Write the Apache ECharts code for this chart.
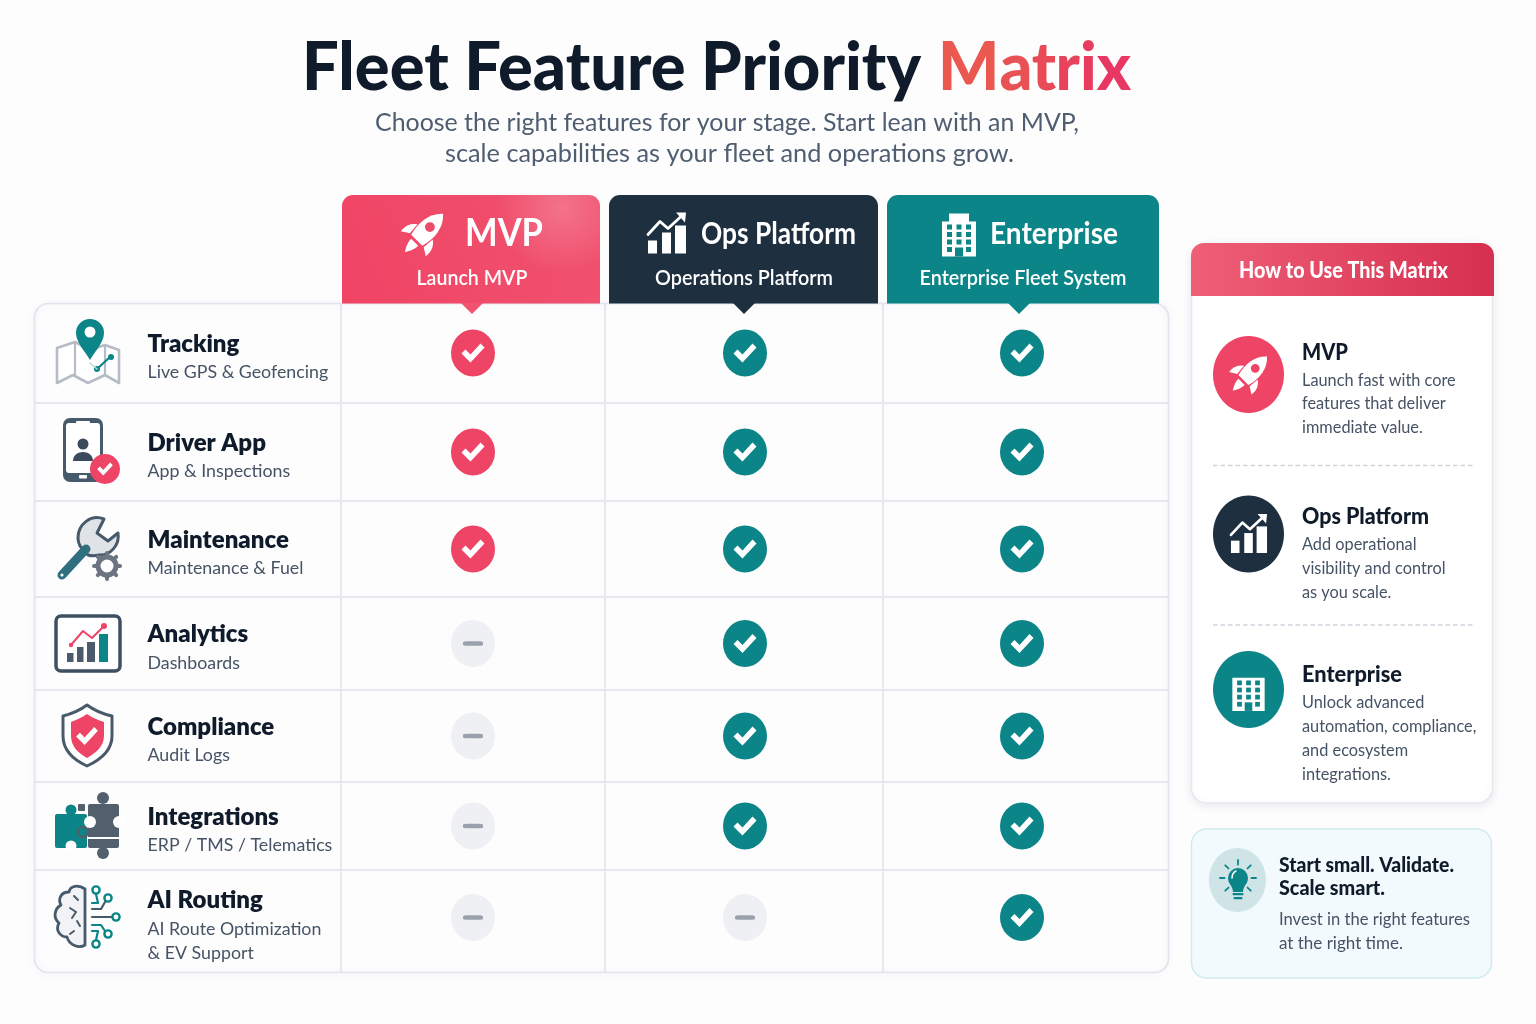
<!DOCTYPE html>
<html>
<head>
<meta charset="utf-8">
<title>Fleet Feature Priority Matrix</title>
<script src="https://cdn.jsdelivr.net/npm/echarts@6/dist/echarts.min.js"></script>
<style>
html,body{margin:0;padding:0;background:#fdfdfe}
#chart{width:1536px;height:1024px}
</style>
</head>
<body>
<div id="chart"></div>
<script>
// table content
const features = ['Tracking', 'Driver App', 'Maintenance', 'Analytics', 'Compliance', 'Integrations', 'AI Routing'];
const featureSubs = ['Live GPS & Geofencing', 'App & Inspections', 'Maintenance & Fuel', 'Dashboards', 'Audit Logs', 'ERP / TMS / Telematics', 'AI Route Optimization\n& EV Support'];
const tiers = ['MVP', 'Ops Platform', 'Enterprise'];
const tierSubs = ['Launch MVP', 'Operations Platform', 'Enterprise Fleet System'];
// 1 = included, 0 = not included, same order as features
const mvpStatus = [1, 1, 1, 0, 0, 0, 0];
const opsStatus = [1, 1, 1, 1, 1, 1, 0];
const enterpriseStatus = [1, 1, 1, 1, 1, 1, 1];

// side panel
const panelTitle = 'How to Use This Matrix';
const mvpNotes = ['Launch fast with core', 'features that deliver', 'immediate value.'];
const opsNotes = ['Add operational', 'visibility and control', 'as you scale.'];
const enterpriseNotes = ['Unlock advanced', 'automation, compliance,', 'and ecosystem', 'integrations.'];
const tipHead = ['Start small. Validate.', 'Scale smart.'];
const tipBody = ['Invest in the right features', 'at the right time.'];

// layout (pixels), not data
const colSizes = [307, 264, 278, 286];
const rowSizes = [100, 98, 96, 93, 92, 88, 103];
const tierNudge = [0, 1, -4]; // marks are not quite centred in their columns
const FONT = 'Lato, "Noto Sans", sans-serif';
const PINK = '#ee4466', TEAL = '#0b8587', NAVY = '#1e2f40', SLATE = '#475a6b', INK = '#0f1b2a', BODY = '#465365';
const CHECK = 'M0 10 L4 6 L9 11 L19 0 L23 4 L9 19 Z';

const measure = document.createElement('canvas').getContext('2d');
// text helper; w squeezes the run to the width it has in the layout
function T(text, x, y, font, fill, align, w) {
  const el = { type: 'text', x, y, style: { text, font, fill, align: align || 'left', verticalAlign: 'middle' } };
  if (w) {
    measure.font = font;
    el.scaleX = w / measure.measureText(text).width;
  }
  return el;
}
function P(d, fill, stroke, lw) {
  return { type: 'path', shape: { pathData: d }, style: { fill: fill || 'none', stroke: stroke || 'none', lineWidth: lw || 0, lineCap: 'round', lineJoin: 'round' } };
}
function circle(cx, cy, r, fill, stroke, lw) {
  return { type: 'circle', shape: { cx, cy, r }, style: { fill: fill || 'none', stroke: stroke || 'none', lineWidth: lw || 0 } };
}
function ellipse(cx, cy, rx, ry, fill) {
  return { type: 'ellipse', shape: { cx, cy, rx, ry }, style: { fill } };
}
function rect(x, y, width, height, fill, r, style) {
  return { type: 'rect', shape: { x, y, width, height, r: r || 0 }, style: style || { fill } };
}
function G(x, y, scale, children, rotation) {
  return { type: 'group', x, y, scaleX: scale, scaleY: scale, rotation: rotation || 0, children };
}
function grad(x0, y0, x1, y1, c0, c1) {
  return new echarts.graphic.LinearGradient(x0, y0, x1, y1, [{ offset: 0, color: c0 }, { offset: 1, color: c1 }]);
}

function rocket(cx, cy, s, bg) {
  return G(cx, cy, s, [
    P('M0 -29 C10 -20 12 -6 8 9 L-8 9 C-12 -6 -10 -20 0 -29Z', '#fff'),
    P('M-11 -3 C-17 1 -19 7 -18 14 L-10 9 Z', '#fff'),
    P('M11 -3 C17 1 19 7 18 14 L10 9 Z', '#fff'),
    P('M-5 12 L5 12 C5 18 2 23 0 26 C-2 23 -5 18 -5 12Z', '#fff'),
    circle(0, -10, 5, bg)
  ], -Math.PI / 4);
}
function barsArrow(cx, cy, s) {
  return G(cx, cy, s, [
    rect(-19, 7, 9, 13, '#fff'), rect(-5, -1, 9, 21, '#fff'), rect(8, -8, 11, 28, '#fff'),
    P('M-19 1 L-7 -12 L1 -5 L14 -17', null, '#fff', 2.8),
    P('M9 -21 L19 -21 L18 -11 Z', '#fff')
  ]);
}
function building(cx, cy, s, bg, stepped) {
  const kids = [rect(-17, -13, 34, 35, '#fff')];
  if (stepped) kids.push(rect(-10, -21, 20, 9, '#fff'));
  for (let r = 0; r < 4; r++) for (let c = 0; c < 3; c++) {
    if (r === 3 && c === 1) continue;
    kids.push(rect(-12 + c * 9.5, -10 + r * 7.5, 5, 5, bg));
  }
  kids.push(rect(-4, 13, 8, 9, bg));
  return G(cx, cy, s, kids);
}
function checkAt(cx, cy, s, fill) {
  return G(cx - 11.5 * s, cy - 9.5 * s, s, [P(CHECK, fill)]);
}

// row icons, one per feature
function trackingIcon() {
  return [
    P('M57 348 L75 342 L90 350 L105 345 L119 350 L119 383 L105 375 L88 383 L73 375 L57 383 Z', '#fff', '#b6bcc6', 2.6),
    P('M75 342 V375 M105 345 V375', null, '#b6bcc6', 2.2),
    P('M90 360 C84 350 76 342 76 333 A14 14 0 0 1 104 333 C104 342 96 350 90 360Z', TEAL),
    circle(90, 332, 5.5, '#fff'),
    P('M97 369 L110 357', null, TEAL, 2.2), circle(97, 369, 3, TEAL), circle(111, 357, 3, TEAL),
    P('M90 363 L97 369', null, '#b9d9da', 1.6)
  ];
}
function driverIcon() {
  return [
    rect(63, 418, 40, 64, SLATE, 7), rect(66, 423, 34, 50, '#fff', 3),
    rect(76, 421, 14, 2.5, '#fff', 1), rect(79, 475, 8, 3.5, '#fff', 1),
    circle(83, 444, 5.5, '#3b4b5c'), P('M73 461 C73 449 93 449 93 461 Z', '#3b4b5c'),
    circle(105, 469, 15, PINK), checkAt(105, 469, 0.68, '#fff')
  ];
}
function maintenanceIcon() {
  const teeth = [];
  for (let i = 0; i < 8; i++) {
    const a = i * Math.PI / 4, x = 107 + Math.cos(a) * 10.5, y = 566 + Math.sin(a) * 10.5;
    teeth.push(`M${x} ${y} L${107 + Math.cos(a) * 13} ${566 + Math.sin(a) * 13}`);
  }
  return [
    P('M104 519 C91 514 78 524 78 538 C78 541 79 544 80 546 L88 555 C91 556 95 556 99 555 C110 556 120 545 118 533 L108 541 L97 533 Z', '#dfe3e8', SLATE, 3),
    P('M62 575 L86 549', null, '#2f6f7e', 9),
    circle(62, 575, 1.6, '#fff'),
    circle(107, 566, 9, 'none', '#6b7480', 5), P(teeth.join(' '), null, '#6b7480', 4)
  ];
}
function analyticsIcon() {
  return [
    rect(56, 616, 64, 55, '#fff', 5, { fill: '#fff', stroke: '#3d4f61', lineWidth: 3.5 }),
    rect(67, 653, 6.5, 9, '#4b5b6b'), rect(77, 647, 6.5, 15, '#4b5b6b'), rect(87, 642, 8, 20, '#4b5b6b'), rect(99, 634, 9, 28, TEAL),
    P('M71 645 L83 631 L92 638 L104 626', null, PINK, 2), circle(71, 645, 2.2, PINK), circle(104, 626, 3, PINK)
  ];
}
function complianceIcon() {
  return [
    P('M87 705 C95 711 103 714 112 716 V736 C112 750 100 760 87 766 C74 760 63 750 63 736 V716 C71 714 79 711 87 705Z', '#fff', '#4a5a6a', 3),
    P('M87 714 C93 718 98 720 104 722 V736 C104 746 96 753 87 758 C78 753 71 746 71 736 V722 C76 720 81 718 87 714Z', PINK),
    checkAt(87, 736, 0.95, '#fff')
  ];
}
function integrationsIcon() {
  const gray = '#525f6d';
  return [
    rect(55, 814, 32, 34, TEAL, 2), circle(71, 810, 5.5, TEAL), circle(71, 846, 5.5, '#fff'),
    rect(78, 804, 7, 7, gray, 1),
    rect(88, 804, 31, 44, gray, 2), circle(103, 798, 6, gray), circle(103, 853, 6, gray),
    circle(119, 822, 6, '#fff'), circle(90, 822, 6, '#fff'),
    circle(83, 832, 5, 'none', gray, 2.4), rect(88, 837, 31, 2, '#fff')
  ];
}
function routingIcon() {
  const ring = (x, y) => circle(x, y, 3.6, '#fff', TEAL, 2.4);
  return [
    P('M85 889 C78 884 70 886 69 892 C60 892 58 900 61 905 C54 909 53 918 59 923 C55 930 60 937 67 937 C69 945 79 949 85 945 Z', '#f1f3f6', SLATE, 2.8),
    P('M70 908 L76 912 L72 918 M77 921 L80 926 M74 896 L78 900 M70 934 L74 931', null, SLATE, 2),
    P('M92 903 H98 L96 894', null, TEAL, 2.2), ring(96, 890),
    P('M92 909 H101 L105 902', null, SLATE, 2.2), ring(108, 898),
    P('M92 917 H112', null, SLATE, 2.2), ring(116, 917),
    P('M92 925 H101 L105 931', null, TEAL, 2.2), ring(108, 934),
    P('M92 931 H98 L96 940', null, TEAL, 2.2), ring(96, 944)
  ];
}
function bulbIcon() {
  const rays = [180, 225, 270, 315, 0, 135, 45].map(deg => {
    const a = deg * Math.PI / 180, c = Math.cos(a), s = Math.sin(a);
    return `M${1238 + c * 13.5} ${878 + s * 13.5} L${1238 + c * 18} ${878 + s * 18}`;
  });
  return [
    ellipse(1237.5, 880, 28.5, 32, '#cfe4e7'),
    P(rays.join(' '), null, TEAL, 1.8),
    P('M1233 892 C1233 886 1228 884 1228 878 A10 10 0 0 1 1248 878 C1248 884 1243 886 1243 892 Z', TEAL),
    rect(1232.5, 893, 11, 2.2, TEAL, 1), rect(1233.5, 897, 9, 2.2, TEAL, 1),
    P('M1232 878 C1232 874 1234 872 1236 871', null, '#fff', 1.5)
  ];
}

const tierColors = [grad(0, 1, 1, 0, '#f04465', '#f0526f'), NAVY, TEAL];
const tabX = [[342, 258], [609, 269], [887, 272]];
const tabTip = [472, 744, 1019];
const matrixWord = 'Matrix';
const matrixLetterColors = ['#ea5850', '#e95255', '#e94a58', '#e9435b', '#e83d5e', '#e83762'];

function buildDecor() {
  const g = [];
  const titleFont = `900 66px ${FONT}`;
  // title block; text fill can't take a gradient so the red word goes letter by letter
  g.push(T('Fleet Feature Priority', 302, 69, titleFont, INK, 'left', 619));
  measure.font = titleFont;
  const squeeze = 193 / measure.measureText(matrixWord).width;
  matrixWord.split('').forEach((ch, i) => {
    const left = measure.measureText(matrixWord.slice(0, i)).width * squeeze;
    const el = T(ch, 938 + left, 69, titleFont, matrixLetterColors[i]);
    el.scaleX = squeeze;
    g.push(el);
  });
  g.push(T('Choose the right features for your stage. Start lean with an MVP,', 727, 123, `400 25px ${FONT}`, '#4f5d70', 'center', 704));
  g.push(T('scale capabilities as your fleet and operations grow.', 729.5, 154, `400 25px ${FONT}`, '#4f5d70', 'center', 569));

  // table frame; the wide white ring trims the square matrix corners
  g.push({ type: 'rect', shape: { x: 30, y: 299, width: 1143, height: 678, r: 18 }, style: { fill: 'none', stroke: '#fdfdfe', lineWidth: 8 } });
  g.push({ type: 'rect', shape: { x: 34.5, y: 303.5, width: 1134, height: 669, r: 14 }, style: { fill: 'none', stroke: '#e2e4ec', lineWidth: 1.6, shadowBlur: 6, shadowColor: 'rgba(60,70,100,0.10)', shadowOffsetY: 1 } });

  // column tabs
  tiers.forEach((name, i) => {
    const [x, w] = tabX[i];
    g.push({ type: 'rect', shape: { x, y: 195, width: w, height: 108.5, r: [11, 11, 0, 0] }, style: { fill: tierColors[i] } });
    g.push(P(`M${tabTip[i] - 11} 303 H${tabTip[i] + 11} L${tabTip[i]} 314 Z`, i === 0 ? '#f0526f' : tierColors[i]));
  });
  g.push({ type: 'rect', shape: { x: 342, y: 195, width: 258, height: 108, r: [11, 11, 0, 0] },
    style: { fill: new echarts.graphic.RadialGradient(0.85, 0.12, 0.6, [{ offset: 0, color: 'rgba(255,255,255,0.2)' }, { offset: 1, color: 'rgba(255,255,255,0)' }]) } });
  g.push(rocket(423, 234, 0.98, '#f04a69'));
  g.push(barsArrow(667, 233.5, 1));
  g.push(building(959, 234.5, 1, TEAL, true));
  g.push(T(tiers[0], 465, 233, `700 39px ${FONT}`, '#fff', 'left', 78));
  g.push(T(tiers[1], 701, 234, `700 30px ${FONT}`, '#fff', 'left', 155));
  g.push(T(tiers[2], 990, 234, `700 30px ${FONT}`, '#fff', 'left', 128));
  g.push(T(tierSubs[0], 472, 278, `600 21px ${FONT}`, '#fff', 'center', 111));
  g.push(T(tierSubs[1], 744, 278, `600 21px ${FONT}`, '#fff', 'center', 178));
  g.push(T(tierSubs[2], 1023, 278, `600 21px ${FONT}`, '#fff', 'center', 207));

  // row icons
  [trackingIcon, driverIcon, maintenanceIcon, analyticsIcon, complianceIcon, integrationsIcon, routingIcon].forEach(fn => fn().forEach(e => g.push(e)));

  // side panel
  g.push({ type: 'rect', shape: { x: 1191.5, y: 244, width: 301, height: 559, r: 15 }, style: { fill: '#fff', stroke: '#e6e8ee', lineWidth: 1.4, shadowBlur: 10, shadowColor: 'rgba(60,70,100,0.10)', shadowOffsetY: 2 } });
  g.push({ type: 'rect', shape: { x: 1191, y: 243, width: 303, height: 53, r: [13, 13, 0, 0] }, style: { fill: grad(0, 0, 1, 0, '#ef5f78', '#d62f4f') } });
  g.push(T(panelTitle, 1343.5, 271, `900 22px ${FONT}`, '#fff', 'center', 209));

  const items = [
    { name: tiers[0], notes: mvpNotes, cy: 374.5, color: PINK, nameY: 352, noteY: [380, 403, 427], w: 46 },
    { name: tiers[1], notes: opsNotes, cy: 534, color: NAVY, nameY: 516, noteY: [544, 568, 592], w: 127 },
    { name: tiers[2], notes: enterpriseNotes, cy: 689.5, color: TEAL, nameY: 674, noteY: [702, 726, 750, 774], w: 100 }
  ];
  items.forEach(it => {
    g.push(ellipse(1248.5, it.cy, 35.5, 38.5, it.color));
    g.push(T(it.name, 1302, it.nameY + 1, `900 23px ${FONT}`, INK, 'left', it.w));
    it.notes.forEach((line, i) => {
      const el = T(line, 1302, it.noteY[i] + 1, `400 17px ${FONT}`, BODY);
      el.scaleX = 0.96;
      g.push(el);
    });
  });
  g.push(rocket(1249, 374.5, 0.88, PINK));
  g.push(barsArrow(1249, 534, 0.95));
  g.push(building(1248.5, 690, 0.95, TEAL, false));
  [465.5, 625].forEach(y => g.push({ type: 'line', shape: { x1: 1213, y1: y, x2: 1474, y2: y }, style: { stroke: '#cfd3db', lineWidth: 1.4, lineDash: [4.5, 3] } }));

  // tip card
  g.push({ type: 'rect', shape: { x: 1191.5, y: 829, width: 300, height: 149, r: 15 }, style: { fill: '#f2fafd', stroke: '#cfeaf0', lineWidth: 1.4 } });
  bulbIcon().forEach(e => g.push(e));
  g.push(T(tipHead[0], 1279, 866, `900 20px ${FONT}`, INK, 'left', 175));
  g.push(T(tipHead[1], 1279, 889, `900 20px ${FONT}`, INK, 'left', 106));
  g.push(T(tipBody[0], 1279, 920, `400 17px ${FONT}`, BODY, 'left', 191));
  g.push(T(tipBody[1], 1279, 944, `400 17px ${FONT}`, BODY, 'left', 124));
  return g;
}

// marks come from the status arrays and sit in the matrix cells
const statusByTier = [mvpStatus, opsStatus, enterpriseStatus];
const yesColors = [PINK, TEAL, TEAL];
const discData = [], checkData = [], dashData = [];
tiers.forEach((tier, c) => {
  statusByTier[c].forEach((on, r) => {
    const offset = [tierNudge[c], r === features.length - 1 ? -4 : 0];
    discData.push({ value: [tier, features[r]], symbolOffset: offset, itemStyle: { color: on ? yesColors[c] : '#eff0f3' } });
    (on ? checkData : dashData).push({ value: [tier, features[r]], symbolOffset: offset });
  });
});
const labelData = features.map((f, r) => ({
  value: ['Feature', f],
  label: { formatter: `{name|${f}}\n` + featureSubs[r].split('\n').map(s => `{sub|${s}}`).join('\n') }
}));

const chart = echarts.init(document.getElementById('chart'), null, { renderer: 'canvas' });
chart.setOption({
  animation: false,
  backgroundColor: '#fdfdfe',
  matrix: {
    left: 34, top: 303, width: 1135, height: 670,
    x: { show: false, data: ['Feature'].concat(tiers).map((v, i) => ({ value: v, size: colSizes[i] })) },
    y: { show: false, data: features.map((v, i) => ({ value: v, size: rowSizes[i] })) },
    body: { itemStyle: { borderColor: '#e6e8ef', borderWidth: 1.5, color: 'transparent' } },
    backgroundStyle: { color: 'transparent', borderWidth: 0 }
  },
  series: [
    { name: 'Decor', type: 'custom', coordinateSystem: 'none', silent: true, z: 3, data: [0],
      renderItem: () => ({ type: 'group', children: buildDecor() }) },
    { name: 'Rows', type: 'scatter', coordinateSystem: 'matrix', symbol: 'circle', symbolSize: 1, z: 5, itemStyle: { color: 'transparent', opacity: 1 }, data: labelData,
      label: { show: true, position: 'inside', offset: [-40, 3], align: 'left',
        rich: {
          name: { fontFamily: FONT, fontWeight: 800, fontSize: 24, color: INK, lineHeight: 33 },
          sub: { fontFamily: FONT, fontWeight: 400, fontSize: 17.8, color: BODY, lineHeight: 24 }
        } } },
    { name: 'Discs', type: 'scatter', coordinateSystem: 'matrix', symbol: 'circle', symbolSize: [44, 47], z: 5, itemStyle: { opacity: 1 }, data: discData },
    { name: 'Included', type: 'scatter', coordinateSystem: 'matrix', symbol: 'path://' + CHECK, symbolSize: [23, 19], z: 6, itemStyle: { color: '#fff', opacity: 1 }, data: checkData },
    { name: 'Not included', type: 'scatter', coordinateSystem: 'matrix', symbol: 'roundRect', symbolSize: [20, 4.5], z: 6, itemStyle: { color: '#9aa1ae', opacity: 1 }, data: dashData }
  ]
});
</script>
</body>
</html>
